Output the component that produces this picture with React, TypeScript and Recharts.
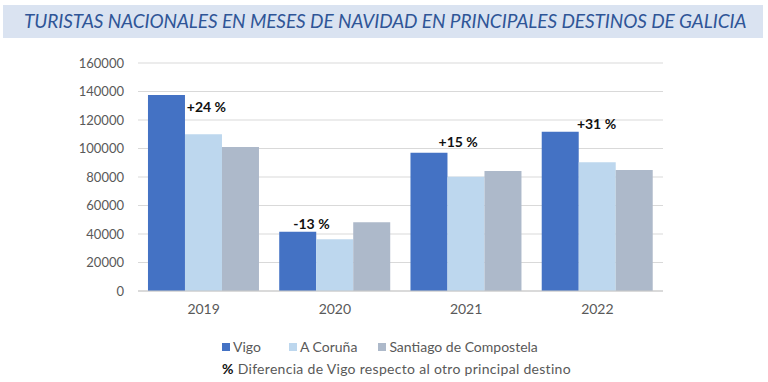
import { BarChart, Bar, XAxis, YAxis, CartesianGrid, LabelList } from "recharts";

const years = ["2019", "2020", "2021", "2022"];
const vigo = [137500, 41600, 97000, 111800];
const coruna = [110000, 36300, 80200, 90300];
const santiago = [101000, 48200, 84200, 84900];
const diffLabels = ["+24 %", "-13 %", "+15 %", "+31 %"];
const yTicks = [0, 20000, 40000, 60000, 80000, 100000, 120000, 140000, 160000];

const series = [
  { key: "vigo", name: "Vigo", color: "#4472C4" },
  { key: "coruna", name: "A Coruña", color: "#BDD7EE" },
  { key: "santiago", name: "Santiago de Compostela", color: "#ADB9CA" },
];

const data = years.map((y, i) => ({
  year: y,
  vigo: vigo[i],
  coruna: coruna[i],
  santiago: santiago[i],
  diff: diffLabels[i],
}));

const FONT = "Lato, 'Liberation Sans', sans-serif";

// label placement relative to the Vigo bar (dx as share of bar width, dy from bar top)
const labelOffsets = [
  { dx: 1.05, dy: 17 },
  { dx: 0.38, dy: -3 },
  { dx: 0.76, dy: -6 },
  { dx: 0.95, dy: -3 },
];

const legendGaps = [28, 21, 0];

const DiffLabel = (props: any) => {
  const { x, y, width, index, value } = props;
  const o = labelOffsets[index] || { dx: 0.5, dy: -4 };
  return (
    <text
      x={x + width * o.dx}
      y={y + o.dy}
      fontSize={14}
      fontWeight={700}
      fontFamily={FONT}
      fill="#111"
      textAnchor="start"
    >
      {value}
    </text>
  );
};

const App = () => {
  return (
    <div
      style={{
        position: "fixed",
        left: 0,
        top: 0,
        width: 768,
        height: 382,
        background: "#fff",
        fontFamily: FONT,
      }}
    >
      <div
        style={{
          position: "absolute",
          left: 3,
          top: 5,
          width: 760,
          height: 33,
          background: "#DAE3F1",
        }}
      />
      <div
        style={{
          position: "absolute",
          left: 24,
          top: 9,
          width: 730,
          fontSize: 19,
          lineHeight: "24px",
          fontStyle: "italic",
          color: "#2F5597",
          whiteSpace: "nowrap",
          letterSpacing: -0.07,
        }}
      >
        TURISTAS NACIONALES EN MESES DE NAVIDAD EN PRINCIPALES DESTINOS DE GALICIA
      </div>

      <div style={{ position: "absolute", left: 0, top: 0 }}>
        <BarChart
          width={768}
          height={382}
          data={data}
          margin={{ top: 63, right: 105, left: 78, bottom: 61 }}
          barCategoryGap="7.6%"
          barGap={0}
        >
          <CartesianGrid vertical={false} stroke="#D9D9D9" />
          <XAxis
            dataKey="year"
            height={30}
            tickLine={false}
            tickSize={0}
            tickMargin={13}
            axisLine={{ stroke: "#C8C8C8" }}
            tick={{ fontSize: 14, fill: "#595959", fontFamily: FONT }}
          />
          <YAxis
            width={60}
            domain={[0, 160000]}
            ticks={yTicks}
            interval={0}
            tickLine={false}
            axisLine={false}
            tickSize={0}
            tickMargin={14}
            tick={{ fontSize: 13, fill: "#595959", fontFamily: FONT }}
          />
          {series.map((s) => (
            <Bar
              key={s.key}
              dataKey={s.key}
              name={s.name}
              fill={s.color}
              isAnimationActive={false}
            >
              {s.key === "vigo" && (
                <LabelList dataKey="diff" content={DiffLabel} />
              )}
            </Bar>
          ))}
        </BarChart>
      </div>

      <div
        style={{
          position: "absolute",
          left: 222,
          top: 337,
          fontSize: 14,
          color: "#595959",
          lineHeight: "20px",
          whiteSpace: "nowrap",
        }}
      >
        <div style={{ display: "flex", alignItems: "center" }}>
          {series.map((s, i) => (
            <span
              key={s.key}
              style={{ display: "inline-flex", alignItems: "center", marginRight: legendGaps[i] }}
            >
              <span
                style={{
                  display: "inline-block",
                  width: 8,
                  height: 8,
                  background: s.color,
                  marginRight: 3,
                }}
              />
              {s.name}
            </span>
          ))}
        </div>
        <div style={{ marginTop: 2, letterSpacing: 0.3 }}>
          <b style={{ color: "#111" }}>%</b> Diferencia de Vigo respecto al otro principal destino
        </div>
      </div>
    </div>
  );
};

export default App;
